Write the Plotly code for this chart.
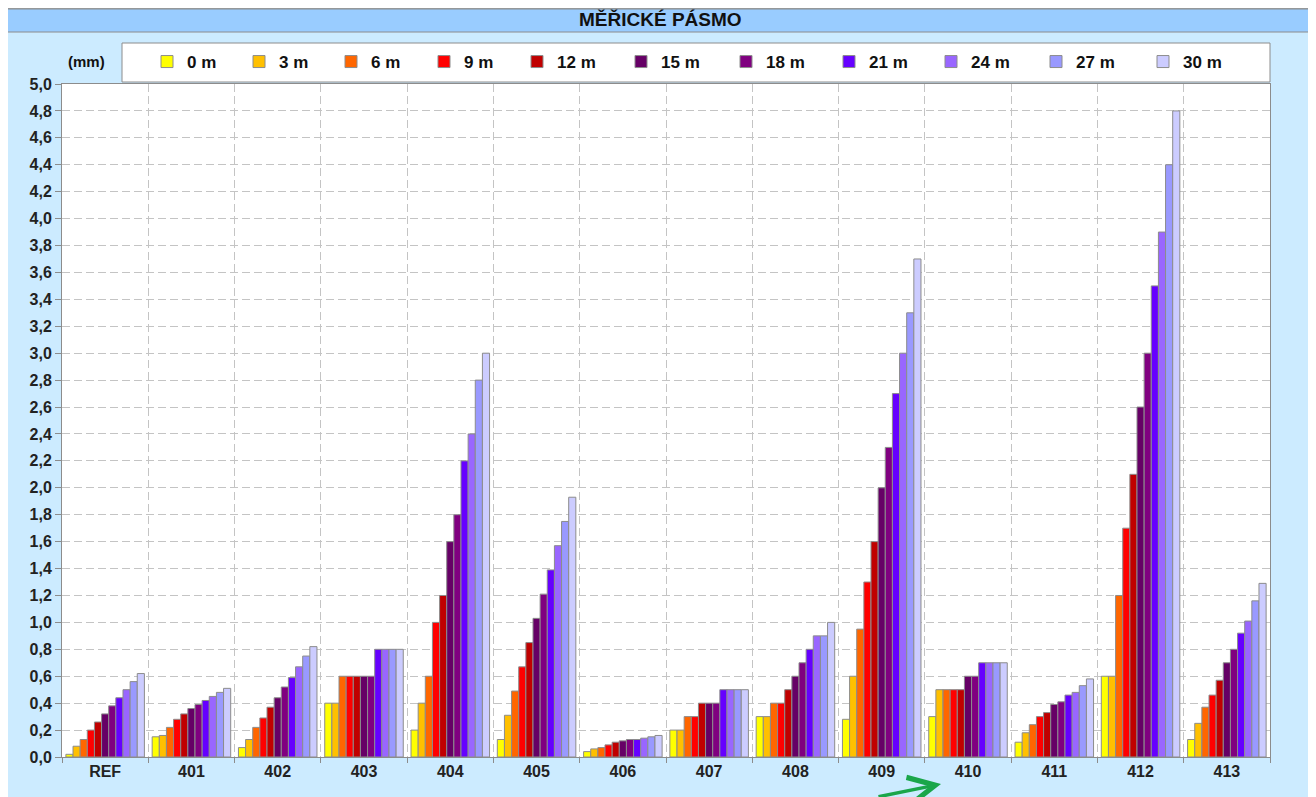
import plotly.graph_objects as go

# ---- data ----
categories = ["REF", "401", "402", "403", "404", "405", "406",
              "407", "408", "409", "410", "411", "412", "413"]
series_names = ["0 m", "3 m", "6 m", "9 m", "12 m", "15 m",
                "18 m", "21 m", "24 m", "27 m", "30 m"]
series_colors = ["#FFFF00", "#FFC000", "#FF6600", "#FF0000", "#C00000", "#660066",
                 "#800080", "#6600FF", "#9966FF", "#9999FF", "#CCCCFF"]

v_REF = [0.02, 0.08, 0.13, 0.20, 0.26, 0.32, 0.38, 0.44, 0.50, 0.56, 0.62]
v_401 = [0.15, 0.16, 0.22, 0.28, 0.32, 0.36, 0.39, 0.42, 0.45, 0.48, 0.51]
v_402 = [0.07, 0.13, 0.22, 0.29, 0.37, 0.44, 0.52, 0.59, 0.67, 0.75, 0.82]
v_403 = [0.40, 0.40, 0.60, 0.60, 0.60, 0.60, 0.60, 0.80, 0.80, 0.80, 0.80]
v_404 = [0.20, 0.40, 0.60, 1.00, 1.20, 1.60, 1.80, 2.20, 2.40, 2.80, 3.00]
v_405 = [0.13, 0.31, 0.49, 0.67, 0.85, 1.03, 1.21, 1.39, 1.57, 1.75, 1.93]
v_406 = [0.04, 0.06, 0.07, 0.09, 0.11, 0.12, 0.13, 0.13, 0.14, 0.15, 0.16]
v_407 = [0.20, 0.20, 0.30, 0.30, 0.40, 0.40, 0.40, 0.50, 0.50, 0.50, 0.50]
v_408 = [0.30, 0.30, 0.40, 0.40, 0.50, 0.60, 0.70, 0.80, 0.90, 0.90, 1.00]
v_409 = [0.28, 0.60, 0.95, 1.30, 1.60, 2.00, 2.30, 2.70, 3.00, 3.30, 3.70]
v_410 = [0.30, 0.50, 0.50, 0.50, 0.50, 0.60, 0.60, 0.70, 0.70, 0.70, 0.70]
v_411 = [0.11, 0.18, 0.24, 0.30, 0.33, 0.39, 0.41, 0.46, 0.48, 0.53, 0.58]
v_412 = [0.60, 0.60, 1.20, 1.70, 2.10, 2.60, 3.00, 3.50, 3.90, 4.40, 4.80]
v_413 = [0.13, 0.25, 0.37, 0.46, 0.57, 0.70, 0.80, 0.92, 1.01, 1.16, 1.29]

rows = [v_REF, v_401, v_402, v_403, v_404, v_405, v_406,
        v_407, v_408, v_409, v_410, v_411, v_412, v_413]

title_text = "MĚŘICKÉ PÁSMO"
unit_text = "(mm)"

# ---- layout helpers (page pixel -> paper); the page body adds an 8px offset ----
OFF = 8
W, H = 1316 - OFF, 797 - OFF
PL, PR, PT, PB = 62, 1270, 84, 757  # plot area in page pixels

# page x where each legend entry's text starts (layout only)
legend_text_x = [184, 276, 368, 461, 554, 658, 763, 866, 968, 1073, 1180]


def px(x):
    return (x - PL) / (PR - PL)


def py(y):
    return (PB - y) / (PB - PT)


FONT = "Arial, 'Liberation Sans', sans-serif"

fig = go.Figure()
legend_layouts = {}
for i, name in enumerate(series_names):
    lid = "legend" if i == 0 else f"legend{i + 1}"
    fig.add_trace(go.Bar(
        name=name,
        x=categories,
        y=[r[i] for r in rows],
        marker=dict(color=series_colors[i], line=dict(color="#8C8C8C", width=1)),
        legend=lid,
    ))
    legend_layouts[lid] = dict(
        orientation="h", x=px(legend_text_x[i] - 37), y=py(62),
        xanchor="left", yanchor="middle",
        bgcolor="rgba(0,0,0,0)", borderwidth=0,
        font=dict(family=FONT, size=17, color="#111111", weight="bold"),
        itemwidth=30,
    )

shapes = [
    # white strips outside the framed panel
    dict(type="rect", xref="paper", yref="paper", x0=px(OFF - 2), x1=px(5), y0=py(H + OFF + 5), y1=py(OFF - 2),
         fillcolor="white", line=dict(width=0), layer="below"),
    dict(type="rect", xref="paper", yref="paper", x0=px(1311), x1=px(W + OFF + 5), y0=py(H + OFF + 5), y1=py(OFF - 2),
         fillcolor="white", line=dict(width=0), layer="below"),
    # panel frame
    dict(type="rect", xref="paper", yref="paper", x0=px(5), x1=px(1311), y0=py(H + OFF + 5), y1=py(8),
         fillcolor="rgba(0,0,0,0)", line=dict(color="#8C8C8C", width=1.5), layer="below"),
    # title band
    dict(type="rect", xref="paper", yref="paper", x0=px(6), x1=px(1310), y0=py(32), y1=py(9),
         fillcolor="#99CCFF", line=dict(color="#8C8C8C", width=1), layer="below"),
    # legend box
    dict(type="rect", xref="paper", yref="paper", x0=px(122), x1=px(1270), y0=py(82), y1=py(43),
         fillcolor="white", line=dict(color="#8C8C8C", width=1), layer="below"),
]

annotations = [
    dict(text="<b>" + title_text + "</b>", xref="paper", yref="paper", x=px(660), y=py(20),
         showarrow=False, font=dict(family=FONT, size=19, color="#111111"),
         xanchor="center", yanchor="middle"),
    dict(text="<b>" + unit_text + "</b>", xref="paper", yref="paper", x=px(86), y=py(62),
         showarrow=False, font=dict(family=FONT, size=15, color="#111111"),
         xanchor="center", yanchor="middle"),
    dict(text="", xref="paper", yref="paper", x=px(941), y=py(784), ax=-64, ay=16,
         showarrow=True, arrowhead=5, arrowsize=1.5, arrowwidth=3.5, arrowcolor="#1AA64A"),
]

fig.update_layout(
    width=W, height=H,
    margin=dict(l=PL - OFF, r=(W + OFF) - PR, t=PT - OFF, b=(H + OFF) - PB, pad=0, autoexpand=False),
    paper_bgcolor="#CCEBFF",
    plot_bgcolor="white",
    separators=", ",
    barmode="group",
    bargap=0.09,
    bargroupgap=0,
    font=dict(family=FONT, color="#222222"),
    shapes=shapes,
    annotations=annotations,
    showlegend=True,
    xaxis=dict(
        type="category", showline=True, linecolor="#8C8C8C", linewidth=1, mirror=True,
        ticks="outside", tickson="boundaries", ticklen=5, tickcolor="#8C8C8C",
        showgrid=True, gridcolor="#C4C4C4", griddash="8px,4px", gridwidth=1,
        tickfont=dict(family=FONT, size=16, color="#222222", weight="bold"),
        fixedrange=True,
    ),
    yaxis=dict(
        range=[0, 5], dtick=0.2, tick0=0, tickformat=".1f",
        showline=True, linecolor="#8C8C8C", linewidth=1, mirror=True,
        ticks="outside", ticklen=6, tickcolor="#8C8C8C",
        showgrid=True, gridcolor="#C4C4C4", griddash="8px,4px", gridwidth=1,
        zeroline=False,
        tickfont=dict(family=FONT, size=16, color="#222222", weight="bold"),
        fixedrange=True,
    ),
    **legend_layouts,
)

fig.write_html("out.html")
